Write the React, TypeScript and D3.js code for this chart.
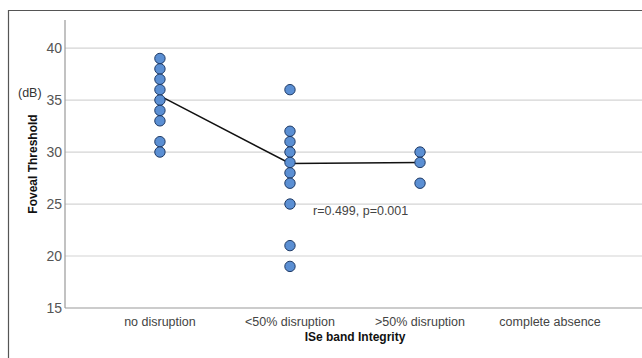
import * as d3 from 'd3';

const categories = ['no disruption', '<50% disruption', '>50% disruption', 'complete absence'];
const noDisruption = [39, 38, 37, 36, 35, 34, 33, 31, 30];
const underHalf = [36, 32, 31, 30, 29, 28, 27, 25, 21, 19];
const overHalf = [30, 29, 27];
const completeAbsence: number[] = [];
const groupMeans = [35.4, 28.9, 29.0];
const yTicks = [15, 20, 25, 30, 35, 40];

const W = 642;
const H = 358;
const m = { left: 65, top: 20, right: 642, bottom: 308 };

const x = d3.scalePoint<string>().domain(categories).range([m.left, 645]).padding(0.73);
const y = d3.scaleLinear().domain([15, 42.7]).range([m.bottom, m.top]);

const font = 'Liberation Sans, Arial, sans-serif';

export default function App() {
  const groups = [noDisruption, underHalf, overHalf, completeAbsence];
  const points = groups.flatMap((vals, i) => vals.map((v) => ({ cat: categories[i], v })));

  const meanLine = d3.line<number>()
    .x((_, i) => x(categories[i]) as number)
    .y((d) => y(d));

  return (
    <svg width={W} height={H} style={{ position: 'absolute', left: 0, top: 0, background: '#fff', overflow: 'hidden' }}>
      {/* outer frame: only top and left edges fall inside the picture */}
      <path d={`M8.5,${H} V10.5 H${W}`} fill="none" stroke="#555" strokeWidth={1.2} />

      {yTicks.filter((t) => t > 15).map((t) => (
        <line key={t} x1={m.left} x2={m.right} y1={y(t)} y2={y(t)} stroke="#d4d4d4" strokeWidth={1.2} />
      ))}

      <line x1={m.left} x2={m.left} y1={m.top} y2={m.bottom} stroke="#999" strokeWidth={1.2} />
      <line x1={m.left} x2={m.right} y1={m.bottom} y2={m.bottom} stroke="#999" strokeWidth={1.2} />

      {yTicks.map((t) => (
        <text key={t} x={m.left - 3} y={y(t)} dy="0.35em" textAnchor="end"
          fontFamily={font} fontSize={14} fill="#555">{t}</text>
      ))}

      {categories.map((c) => (
        <text key={c} x={x(c)} y={326} textAnchor="middle" fontFamily={font} fontSize={12.5} fill="#444">{c}</text>
      ))}

      <text x={355} y={341} textAnchor="middle" fontFamily={font} fontSize={12} fontWeight="bold" fill="#111">
        ISe band Integrity
      </text>
      <text transform={`translate(37, ${(m.top + m.bottom) / 2}) rotate(-90)`} textAnchor="middle"
        fontFamily={font} fontSize={12} fontWeight="bold" fill="#111">Foveal Threshold</text>
      <text x={18} y={97} fontFamily={font} fontSize={12.5} fill="#333">(dB)</text>

      <path d={meanLine(groupMeans) ?? ''} fill="none" stroke="#111" strokeWidth={1.6} />

      {points.map((p, i) => (
        <circle key={i} cx={x(p.cat)} cy={y(p.v)} r={5.2} fill="#5b8fd3" stroke="#1e3a66" strokeWidth={1} />
      ))}

      <text x={313} y={215} fontFamily={font} fontSize={12.5} fill="#444">r=0.499, p=0.001</text>
    </svg>
  );
}
